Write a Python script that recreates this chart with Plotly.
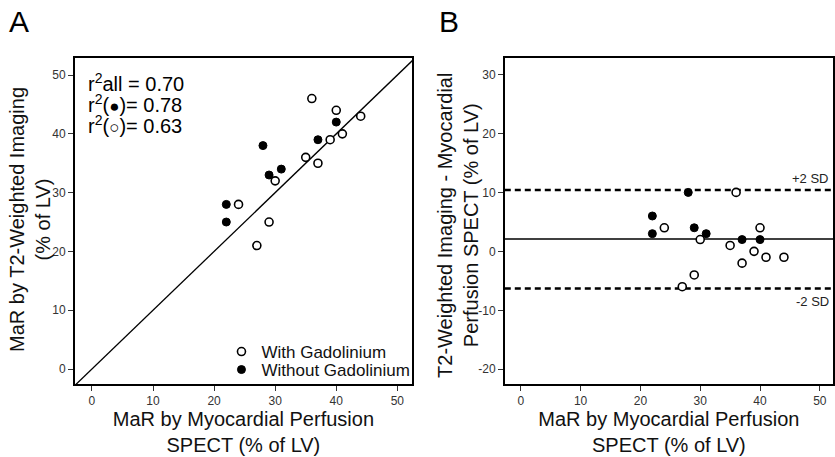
import plotly.graph_objects as go

# ---- data ----
spect_gd = [24, 27, 29, 30, 35, 36, 37, 39, 40, 41, 44]
t2_gd = [28, 21, 25, 32, 36, 46, 35, 39, 44, 40, 43]
diff_gd = [4, -6, -4, 2, 1, 10, -2, 0, 4, -1, -1]

spect_nogd = [22, 22, 28, 29, 31, 37, 40]
t2_nogd = [28, 25, 38, 33, 34, 39, 42]
diff_nogd = [6, 3, 10, 4, 3, 2, 2]

identity_line = [-10, 60]
mean_diff = 2.1
upper_limit = 10.4
lower_limit = -6.3

r2_labels = ["r<sup>2</sup>all = 0.70",
             "r<sup>2</sup>(<span style='font-size:17px'>●</span>)= 0.78",
             "r<sup>2</sup>(<span style='font-size:17px'>○</span>)= 0.63"]

xtick_vals = [0, 10, 20, 30, 40, 50]
xtick_text = ["0", "10", "20", "30", "40", "50"]
ytickA_vals = [0, 10, 20, 30, 40, 50]
ytickA_text = ["0", "10", "20", "30", "40", "50"]
ytickB_vals = [-20, -10, 0, 10, 20, 30]
ytickB_text = ["-20", "-10", "0", "10", "20", "30"]

FONT = "Arial, Liberation Sans, sans-serif"
W, H = 835, 457
ML, MR, MT, MB = 0, 0, 58, 73

open_marker = dict(symbol="circle", size=8, color="white", line=dict(color="black", width=1.6))
fill_marker = dict(symbol="circle", size=8, color="black", line=dict(color="black", width=1))

fig = go.Figure()

# Panel A
fig.add_trace(go.Scatter(x=identity_line, y=identity_line, mode="lines",
                         line=dict(color="black", width=1.3), showlegend=False,
                         hoverinfo="skip", xaxis="x", yaxis="y"))
fig.add_trace(go.Scatter(x=spect_gd, y=t2_gd, mode="markers", marker=open_marker,
                         name="With Gadolinium", legend="legend", xaxis="x", yaxis="y"))
fig.add_trace(go.Scatter(x=spect_nogd, y=t2_nogd, mode="markers", marker=fill_marker,
                         name="Without Gadolinium", legend="legend2", xaxis="x", yaxis="y"))

# Panel B
fig.add_trace(go.Scatter(x=spect_gd, y=diff_gd, mode="markers", marker=open_marker,
                         showlegend=False, xaxis="x2", yaxis="y2"))
fig.add_trace(go.Scatter(x=spect_nogd, y=diff_nogd, mode="markers", marker=fill_marker,
                         showlegend=False, xaxis="x2", yaxis="y2"))

line_common = dict(xref="x2 domain", x0=0, x1=1, yref="y2", layer="below")
fig.add_shape(type="line", y0=mean_diff, y1=mean_diff, line=dict(color="black", width=1.5), **line_common)
fig.add_shape(type="line", y0=upper_limit, y1=upper_limit,
              line=dict(color="black", width=2.5, dash="6px,4px"), **line_common)
fig.add_shape(type="line", y0=lower_limit, y1=lower_limit,
              line=dict(color="black", width=2.5, dash="6px,4px"), **line_common)

def px_x(p):
    return (p - ML) / (W - ML - MR)

def px_y(p):
    return (H - MB - p) / (H - MT - MB)

axis_common = dict(showgrid=False, zeroline=False, showline=True, mirror=True,
                   linecolor="black", linewidth=1.5, ticks="outside", ticklen=5,
                   tickwidth=1, tickcolor="#333", tickmode="array",
                   tickfont=dict(family=FONT, size=12, color="#333"))
title_font = dict(family=FONT, size=20, color="#111")
legend_common = dict(xanchor="left", yanchor="middle", bgcolor="rgba(0,0,0,0)",
                     font=dict(family=FONT, size=17, color="#111"), itemwidth=30)

fig.update_layout(
    width=W, height=H,
    margin=dict(l=ML, r=MR, t=MT, b=MB),
    paper_bgcolor="white", plot_bgcolor="white",
    font=dict(family=FONT, color="#111"),
    xaxis=dict(domain=[px_x(75), px_x(413)], range=[-2.8, 52.4],
               tickvals=xtick_vals, ticktext=xtick_text, anchor="y",
               title=dict(text="MaR by Myocardial Perfusion<br>SPECT (% of LV)", font=title_font, standoff=4),
               **axis_common),
    yaxis=dict(domain=[0, 1], range=[-2.55, 52.9],
               tickvals=ytickA_vals, ticktext=ytickA_text, anchor="x",
               **axis_common),
    xaxis2=dict(domain=[px_x(506), 1.0], range=[-2.67, 52.2],
                tickvals=xtick_vals, ticktext=xtick_text, anchor="y2",
                title=dict(text="MaR by Myocardial Perfusion<br>SPECT (% of LV)", font=title_font, standoff=4),
                **axis_common),
    yaxis2=dict(domain=[0, 1], range=[-22.5, 32.8],
                tickvals=ytickB_vals, ticktext=ytickB_text, anchor="x2",
                **axis_common),
    legend=dict(x=px_x(222), y=px_y(352), **legend_common),
    legend2=dict(x=px_x(222), y=px_y(370), **legend_common),
    hovermode=False,
)

# y-axis titles (rotated annotations for exact positioning)
fig.add_annotation(text="MaR by T2-Weighted Imaging<br>(% of LV)", xref="paper", yref="paper",
                   x=px_x(30), y=px_y(219), xanchor="center", yanchor="middle",
                   textangle=-90, showarrow=False, font=title_font)
fig.add_annotation(text="T2-Weighted Imaging - Myocardial<br>Perfusion SPECT (% of LV)",
                   xref="paper", yref="paper",
                   x=px_x(459), y=px_y(225), xanchor="center", yanchor="middle",
                   textangle=-90, showarrow=False, font=title_font)

# panel letters
fig.add_annotation(text="A", xref="paper", yref="paper", x=px_x(7), y=px_y(3),
                   xanchor="left", yanchor="top", showarrow=False,
                   font=dict(family=FONT, size=30, color="black"))
fig.add_annotation(text="B", xref="paper", yref="paper", x=px_x(438), y=px_y(3),
                   xanchor="left", yanchor="top", showarrow=False,
                   font=dict(family=FONT, size=30, color="black"))

# r^2 text, one line each for tight spacing
for label, ypix in zip(r2_labels, [82, 103, 124]):
    fig.add_annotation(text=label, xref="paper", yref="paper", x=px_x(86), y=px_y(ypix),
                       xanchor="left", yanchor="middle", align="left", showarrow=False,
                       font=dict(family=FONT, size=20, color="black"))

# SD labels
fig.add_annotation(text="+2 SD", xref="paper", yref="y2", x=px_x(833), y=upper_limit,
                   xanchor="right", yanchor="bottom", yshift=2, showarrow=False,
                   font=dict(family=FONT, size=13, color="#222"))
fig.add_annotation(text="-2 SD", xref="paper", yref="y2", x=px_x(833), y=lower_limit,
                   xanchor="right", yanchor="top", yshift=-3, showarrow=False,
                   font=dict(family=FONT, size=13, color="#222"))

fig.write_html("out.html", config={"displayModeBar": False},
               post_script="document.body.style.margin='0';")
